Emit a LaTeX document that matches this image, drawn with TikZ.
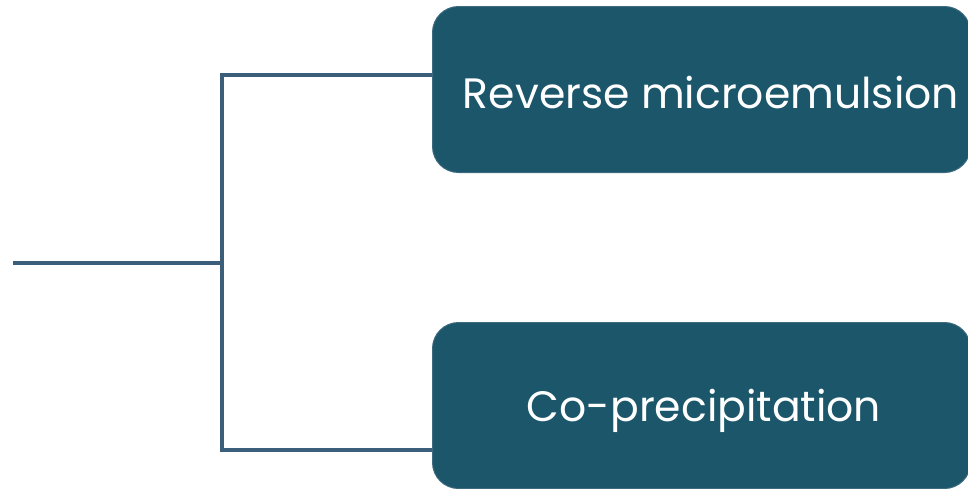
\documentclass[tikz,border=0pt]{standalone}
\usepackage{fontspec}
\setmainfont{Poppins}
\definecolor{boxfill}{HTML}{1B566A}
\definecolor{boxedge}{HTML}{3E6A80}
\definecolor{linec}{HTML}{3B5F7A}
\begin{document}
\begin{tikzpicture}[x=1pt,y=-1pt,
  method/.style={draw=boxedge,line width=1pt,fill=boxfill,rounded corners=26pt,
    minimum width=538pt,minimum height=166pt,inner sep=0pt},
  label/.style={text=white,inner sep=0pt,font=\fontsize{42.5}{50}\selectfont},
  conn/.style={draw=linec,line width=3.2pt}]
\useasboundingbox (0,0) rectangle (968,488);
\node[method,anchor=north west] (a) at (432,6) {};
\node[method,anchor=north west] (b) at (432,322) {};
\node[label] (ta) at (711,93) {Reverse microemulsion};
\node[label] (tb) at (704,411) {Co-precipitation};
\coordinate (root) at (13,263);
\coordinate (j) at (222,263);
\draw[conn] (root) -- (j);
\draw[conn] (a.west |- 0,75) -| (222,450) -- (b.west |- 0,450);
\end{tikzpicture}
\end{document}
